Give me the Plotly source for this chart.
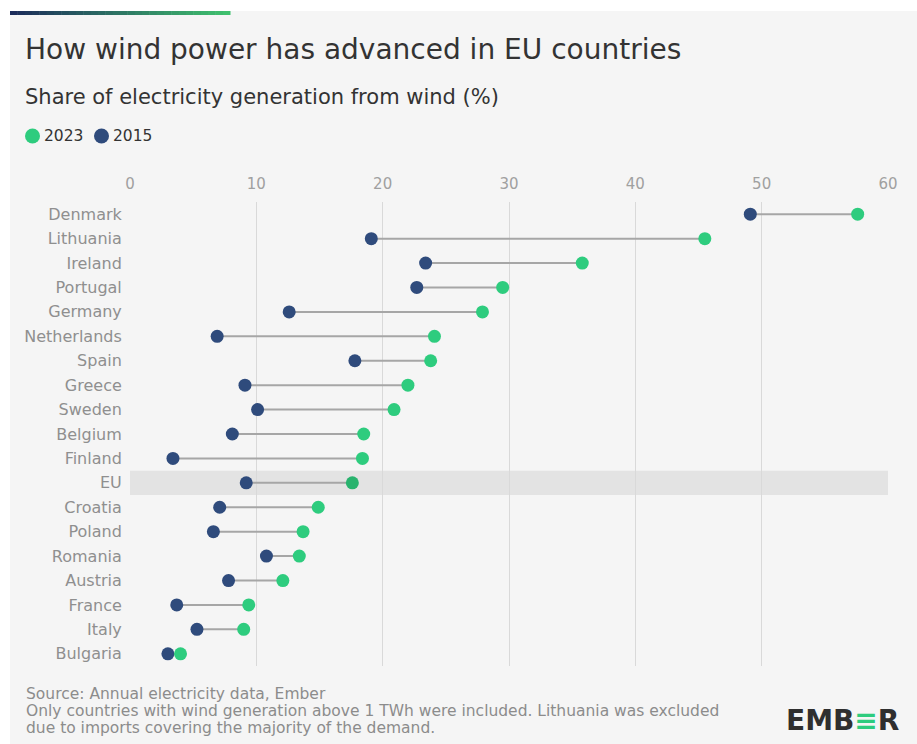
import plotly.graph_objects as go

# share of electricity generation from wind (%), top to bottom
countries = [
    "Denmark", "Lithuania", "Ireland", "Portugal", "Germany", "Netherlands",
    "Spain", "Greece", "Sweden", "Belgium", "Finland", "EU", "Croatia",
    "Poland", "Romania", "Austria", "France", "Italy", "Bulgaria",
]
share_2015 = [49.1, 19.1, 23.4, 22.7, 12.6, 6.9, 17.8, 9.1, 10.1, 8.1, 3.4, 9.2, 7.1, 6.6, 10.8, 7.8, 3.7, 5.3, 3.0]
share_2023 = [57.6, 45.5, 35.8, 29.5, 27.9, 24.1, 23.8, 22.0, 20.9, 18.5, 18.4, 17.6, 14.9, 13.7, 13.4, 12.1, 9.4, 9.0, 4.0]
x_ticks = [0, 10, 20, 30, 40, 50, 60]
highlight = "EU"
footer_lines = [
    "Source: Annual electricity data, Ember",
    "Only countries with wind generation above 1 TWh were included. Lithuania was excluded",
    "due to imports covering the majority of the demand.",
]

GREEN = "#2ECC7E"
GREEN_DARK = "#29B36E"
NAVY = "#2F4B7C"
FONT = "DejaVu Sans"

W, H = 917, 744
ML, MR, MT, MB = 130, 29, 202, 78
PW, PH = W - ML - MR, H - MT - MB


def xp(px):
    return (px - ML) / PW


def yp(py):
    return (H - MB - py) / PH


# connector lines between the two years
line_x, line_y = [], []
for c, a, b in zip(countries, share_2015, share_2023):
    line_x += [a, b, None]
    line_y += [c, c, None]

green_cols = [GREEN_DARK if c == highlight else GREEN for c in countries]

fig = go.Figure()
fig.add_trace(go.Scatter(x=line_x, y=line_y, mode="lines",
                         line={"color": "#A6A6A6", "width": 2}, hoverinfo="skip", showlegend=False))
fig.add_trace(go.Scatter(x=share_2015, y=countries, mode="markers", name="2015",
                         marker={"color": NAVY, "size": 13}, showlegend=False))
fig.add_trace(go.Scatter(x=share_2023, y=countries, mode="markers", name="2023",
                         marker={"color": green_cols, "size": 13}, showlegend=False))

shapes = [
    # card background
    {"type": "rect", "xref": "paper", "yref": "paper", "x0": xp(10), "x1": xp(930),
     "y0": yp(11), "y1": yp(760), "fillcolor": "#F5F5F5", "line": {"width": 0}, "layer": "below"},
    # highlighted EU row
    {"type": "rect", "xref": "paper", "yref": "y", "x0": 0, "x1": 1,
     "y0": countries.index(highlight) - 0.5, "y1": countries.index(highlight) + 0.5,
     "fillcolor": "#E3E3E3", "line": {"width": 0}, "layer": "below"},
]

# gradient strip at the top
n_seg = 30
c0, c1 = (0x1C, 0x2C, 0x5A), (0x3F, 0xC0, 0x6E)
for i in range(n_seg):
    t = i / (n_seg - 1)
    col = "rgb({},{},{})".format(*[round(a + (b - a) * t) for a, b in zip(c0, c1)])
    x0 = 10 + (230 - 10) * i / n_seg
    x1 = 10 + (230 - 10) * (i + 1) / n_seg + 0.5
    shapes.append({"type": "rect", "xref": "paper", "yref": "paper", "x0": xp(x0), "x1": xp(x1),
                   "y0": yp(11), "y1": yp(15), "fillcolor": col, "line": {"width": 0}})

# legend dots
for cx, col in [(32.5, GREEN), (101.5, NAVY)]:
    shapes.append({"type": "circle", "xref": "paper", "yref": "paper",
                   "x0": xp(cx - 7.5), "x1": xp(cx + 7.5), "y0": yp(136 - 7.5), "y1": yp(136 + 7.5),
                   "fillcolor": col, "line": {"width": 0}})

annotations = [
    {"text": "How wind power has advanced in EU countries", "x": xp(23), "y": yp(50),
     "font": {"size": 28, "color": "#333333"}},
    {"text": "Share of electricity generation from wind (%)", "x": xp(23), "y": yp(97),
     "font": {"size": 21, "color": "#333333"}},
    {"text": "2023", "x": xp(42), "y": yp(136), "font": {"size": 15.5, "color": "#333333"}},
    {"text": "2015", "x": xp(111), "y": yp(136), "font": {"size": 15.5, "color": "#333333"}},
    {"text": "<b>EMB<span style='color:#2ECC7E'>\u2261</span>R</b>", "x": xp(901), "y": yp(720),
     "xanchor": "right", "font": {"size": 28, "color": "#2F2F2F"}},
]
for i, line in enumerate(footer_lines):
    annotations.append({"text": line, "x": xp(24), "y": yp(694 + 17 * i),
                        "font": {"size": 15.5, "color": "#8C8C8C"}})
for a in annotations:
    a.setdefault("xanchor", "left")
    a.update({"xref": "paper", "yref": "paper", "yanchor": "middle", "showarrow": False})

fig.update_layout(
    width=W, height=H,
    margin={"l": ML, "r": MR, "t": MT, "b": MB, "pad": 0},
    paper_bgcolor="white", plot_bgcolor="rgba(0,0,0,0)",
    font={"family": FONT},
    shapes=shapes, annotations=annotations,
    showlegend=False,
    xaxis={"side": "top", "range": [0, 60], "tickvals": x_ticks, "showgrid": True,
           "gridcolor": "#D9D9D9", "gridwidth": 1, "zeroline": False, "showline": False,
           "ticks": "outside", "ticklen": 6, "tickcolor": "rgba(0,0,0,0)",
           "tickfont": {"size": 15, "color": "#A0A0A0"}, "fixedrange": True},
    yaxis={"type": "category", "categoryorder": "array", "categoryarray": countries,
           "range": [len(countries) - 0.5, -0.5], "showgrid": False, "zeroline": False,
           "ticks": "outside", "ticklen": 4, "tickcolor": "rgba(0,0,0,0)",
           "tickfont": {"size": 16, "color": "#8F8F8F"}, "fixedrange": True},
)

# drop the default body margin so the figure sits at the page corner
fig.write_html("out.html", config={"displayModeBar": False},
               post_script="document.body.style.margin = '0';")
